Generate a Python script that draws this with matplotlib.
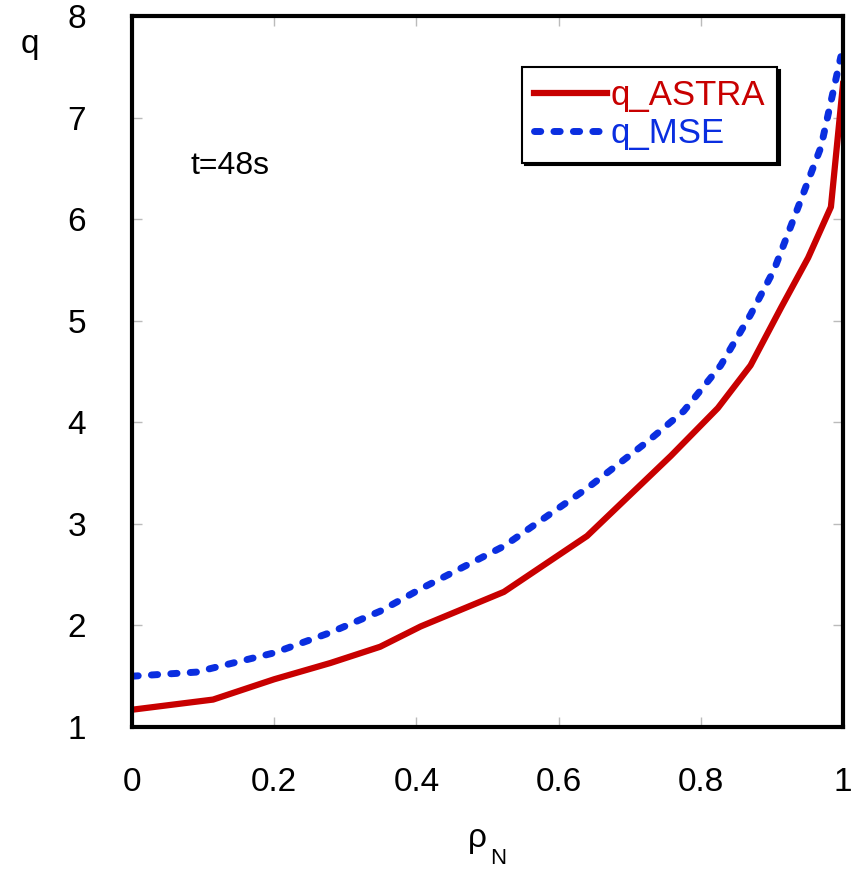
import matplotlib
matplotlib.use("Agg")
import matplotlib.pyplot as plt

# q profiles at t=48s
rho_astra = [0, 0.114, 0.2, 0.279, 0.349, 0.406, 0.523, 0.64, 0.758, 0.824, 0.870, 0.913, 0.951, 0.983, 1.0]
q_astra = [1.17, 1.27, 1.47, 1.63, 1.79, 1.99, 2.33, 2.88, 3.67, 4.14, 4.56, 5.13, 5.62, 6.12, 7.33]

rho_mse = [0, 0.09, 0.2, 0.279, 0.349, 0.406, 0.523, 0.64, 0.725, 0.776, 0.828, 0.870, 0.903, 0.937, 0.969, 0.997]
q_mse = [1.50, 1.54, 1.73, 1.93, 2.14, 2.36, 2.78, 3.35, 3.81, 4.11, 4.56, 5.06, 5.50, 6.12, 6.71, 7.60]

x_ticks = [0, 0.2, 0.4, 0.6, 0.8, 1]
x_tick_labels = ["0", "0.2", "0.4", "0.6", "0.8", "1"]
y_ticks = [1, 2, 3, 4, 5, 6, 7, 8]

plt.rcParams["font.family"] = ["Liberation Sans", "DejaVu Sans"]

W, H = 852, 869
fig = plt.figure(figsize=(W / 100, H / 100), dpi=100)
ax = fig.add_axes([132 / W, 1 - 727 / H, (843 - 132) / W, (727 - 16) / H])

red = "#c80000"
blue = "#0a2ee0"

ax.plot(rho_astra, q_astra, color=red, lw=4.5, label="q_ASTRA", solid_joinstyle="round")
ax.plot(rho_mse, q_mse, color=blue, lw=5, linestyle=(0, (0.9, 1.9)),
        dash_capstyle="round", label="q_MSE")

ax.set_xlim(0, 1)
ax.set_ylim(1, 8)
ax.set_xticks(x_ticks)
ax.set_xticklabels(x_tick_labels)
ax.set_yticks(y_ticks)

for s in ax.spines.values():
    s.set_linewidth(3)
    s.set_color("black")

ax.tick_params(direction="in", length=7, width=1, color="#bbbbbb",
               top=True, right=True, labelsize=24)
ax.tick_params(axis="x", pad=29)
ax.tick_params(axis="y", pad=33)

ax.text(0.082, 0.789, "t=48s", transform=ax.transAxes, fontsize=23, ha="left", va="center")

leg = ax.legend(loc="upper left", bbox_to_anchor=((522 - 132) / 711, (727 - 67) / 711),
                fontsize=25, frameon=True, fancybox=False, edgecolor="black",
                handlelength=2.1, handletextpad=0.1, borderpad=0.35, labelspacing=0.15,
                borderaxespad=0, labelcolor="linecolor",
                shadow={"color": "black", "alpha": 1})
leg.get_frame().set_linewidth(1.5)

fig.text(30 / W, 1 - 45 / H, "q", fontsize=24, ha="center", va="center")
fig.text(477 / W, 1 - 838 / H, "ρ", fontsize=24, ha="center", va="center")
fig.text(498 / W, 1 - 859 / H, "N", fontsize=16, ha="center", va="center")

fig.savefig("out.png", dpi=100)
